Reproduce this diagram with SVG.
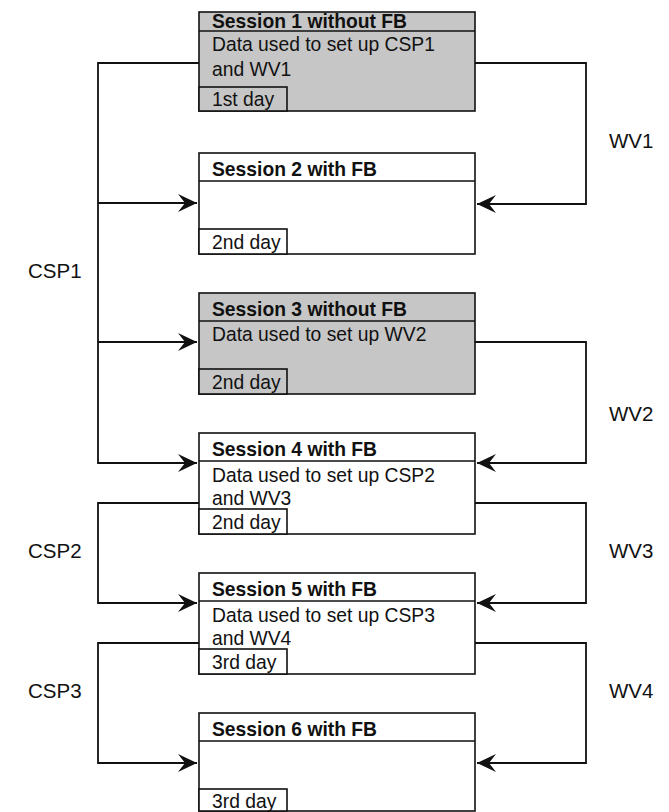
<svg xmlns="http://www.w3.org/2000/svg" width="669" height="812" viewBox="0 0 669 812">
<style>
.box{fill:#fff;stroke:#111;stroke-width:1.6}
.gray{fill:#c6c6c6}
.ln{fill:none;stroke:#111;stroke-width:1.6}
.hd{font-family:"Liberation Sans",Arial,sans-serif;font-size:19.3px;font-weight:bold;fill:#111}
.tx{font-family:"Liberation Sans",Arial,sans-serif;font-size:19.3px;fill:#111}
.lb{font-family:"Liberation Sans",Arial,sans-serif;font-size:20.5px;fill:#111}
.cn{fill:none;stroke:#111;stroke-width:1.8}
</style>
<defs>
<marker id="ah" markerWidth="22" markerHeight="22" refX="20" refY="10" orient="auto" markerUnits="userSpaceOnUse">
<path d="M20,10 L1,1 L8,10 L1,19 Z" fill="#111"/>
</marker>
</defs>
<rect width="669" height="812" fill="#fff"/>
<g id="connectors">
<path class="cn" d="M199,63 H98 V463 H197" marker-end="url(#ah)"/>
<path class="cn" d="M98,203 H197" marker-end="url(#ah)"/>
<path class="cn" d="M98,342 H197" marker-end="url(#ah)"/>
<path class="cn" d="M475,63 H586 V204 H477" marker-end="url(#ah)"/>
<path class="cn" d="M475,342 H586 V463 H477" marker-end="url(#ah)"/>
<path class="cn" d="M199,503 H98 V603 H197" marker-end="url(#ah)"/>
<path class="cn" d="M475,503 H586 V603 H477" marker-end="url(#ah)"/>
<path class="cn" d="M199,643 H98 V763 H197" marker-end="url(#ah)"/>
<path class="cn" d="M475,643 H586 V763 H477" marker-end="url(#ah)"/>
</g>
<g id="labels">
<text class="lb" x="28" y="278">CSP1</text>
<text class="lb" x="28" y="558">CSP2</text>
<text class="lb" x="28" y="698">CSP3</text>
<text class="lb" x="609" y="148">WV1</text>
<text class="lb" x="609" y="421">WV2</text>
<text class="lb" x="609" y="558">WV3</text>
<text class="lb" x="609" y="698">WV4</text>
</g>
<g id="session1">
<rect class="box gray" x="199" y="12" width="276" height="99"/>
<line class="ln" x1="199" y1="31" x2="475" y2="31"/>
<rect class="box gray" x="199" y="87" width="88" height="24"/>
<text class="hd" x="212" y="28">Session 1 without FB</text>
<text class="tx" x="212" y="51">Data used to set up CSP1</text>
<text class="tx" x="212" y="76">and WV1</text>
<text class="tx" x="212" y="106">1st day</text>
</g>
<g id="session2">
<rect class="box" x="199" y="153" width="276" height="101"/>
<line class="ln" x1="199" y1="181" x2="475" y2="181"/>
<rect class="box" x="199" y="229" width="88" height="25"/>
<text class="hd" x="212" y="176">Session 2 with FB</text>
<text class="tx" x="212" y="249">2nd day</text>
</g>
<g id="session3">
<rect class="box gray" x="199" y="293" width="276" height="101"/>
<line class="ln" x1="199" y1="321" x2="475" y2="321"/>
<rect class="box gray" x="199" y="369" width="88" height="25"/>
<text class="hd" x="212" y="316">Session 3 without FB</text>
<text class="tx" x="212" y="341">Data used to set up WV2</text>
<text class="tx" x="212" y="389">2nd day</text>
</g>
<g id="session4">
<rect class="box" x="199" y="433" width="276" height="101"/>
<line class="ln" x1="199" y1="461" x2="475" y2="461"/>
<rect class="box" x="199" y="509" width="88" height="25"/>
<text class="hd" x="212" y="456">Session 4 with FB</text>
<text class="tx" x="212" y="482">Data used to set up CSP2</text>
<text class="tx" x="212" y="505">and WV3</text>
<text class="tx" x="212" y="529">2nd day</text>
</g>
<g id="session5">
<rect class="box" x="199" y="573" width="276" height="101"/>
<line class="ln" x1="199" y1="601" x2="475" y2="601"/>
<rect class="box" x="199" y="649" width="88" height="25"/>
<text class="hd" x="212" y="596">Session 5 with FB</text>
<text class="tx" x="212" y="622">Data used to set up CSP3</text>
<text class="tx" x="212" y="645">and WV4</text>
<text class="tx" x="212" y="669">3rd day</text>
</g>
<g id="session6">
<rect class="box" x="199" y="713" width="276" height="98"/>
<line class="ln" x1="199" y1="741" x2="475" y2="741"/>
<rect class="box" x="199" y="789" width="88" height="22"/>
<text class="hd" x="212" y="736">Session 6 with FB</text>
<text class="tx" x="212" y="808">3rd day</text>
</g>
</svg>
